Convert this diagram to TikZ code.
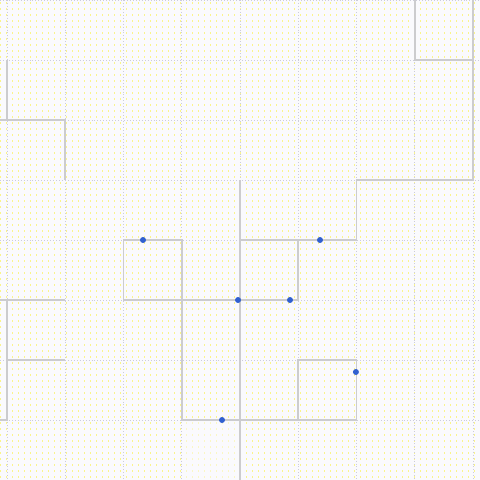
\documentclass[tikz,border=0pt]{standalone}

\definecolor{paper}{RGB}{250,250,253}
\definecolor{dotyellow}{RGB}{250,244,140}
\definecolor{gridlav}{RGB}{204,204,218}
\definecolor{wallgray}{RGB}{204,204,206}
\definecolor{pinblue}{RGB}{48,96,208}

\begin{document}
\begin{tikzpicture}[x=1.45625cm,y=-1.5cm,
  gridline/.style={gridlav,line width=.6pt,dash pattern=on .7pt off 1.4pt},
  dotrow/.style={dotyellow,line width=.8pt,dash pattern=on .8pt off 3.47pt},
  wall/.style={wallgray,line width=1.1pt},
  bluedot/.style={circle,fill=pinblue,minimum size=.15cm,inner sep=0}]
\useasboundingbox (-.1202,0) rectangle (8.1202,8);
\fill[paper] (-.1202,0) rectangle (8.1202,8);
% yellow dot field, one dashed row every 6px
\foreach \r in {0,...,79}
  \draw[dotrow] (-.1202,\r/10+.05) -- (8.1202,\r/10+.05);
\fill[paper,opacity=.5] (3,7) rectangle (4,8);
% cell lines
\foreach \i in {0,...,8} \draw[gridline] (\i,0) -- (\i,8);
\foreach \j in {0,...,8} \draw[gridline] (-.1202,\j) -- (8.1202,\j);
% heavier walls
\draw[wall] (7,0) -- (7,1) -- (8,1);
\draw[wall] (8,0) -- (8,3) -- (6,3) -- (6,4) -- (4,4);
\draw[wall] (4,3) -- (4,8);
\draw[wall] (2,4) rectangle (3,5);
\draw[wall] (3,5) -- (5,5) -- (5,4);
\draw[wall] (3,5) -- (3,7) -- (6,7);
\draw[wall] (5,7) -- (5,6) -- (6,6) -- (6,7);
\draw[wall] (0,1) -- (0,2);
\draw[wall] (-.1202,2) -- (1,2) -- (1,3);
\draw[wall] (-.1202,5) -- (1,5);
\draw[wall] (0,5) -- (0,7) -- (-.1202,7);
\draw[wall] (0,6) -- (1,6);
% points
\node[bluedot] (p1) at (2.335,4) {};
\node[bluedot] (p2) at (5.373,4) {};
\node[bluedot] (p3) at (3.966,5) {};
\node[bluedot] (p4) at (4.858,5) {};
\node[bluedot] (p5) at (5.99,6.2) {};
\node[bluedot] (p6) at (3.691,7) {};
\end{tikzpicture}
\end{document}
